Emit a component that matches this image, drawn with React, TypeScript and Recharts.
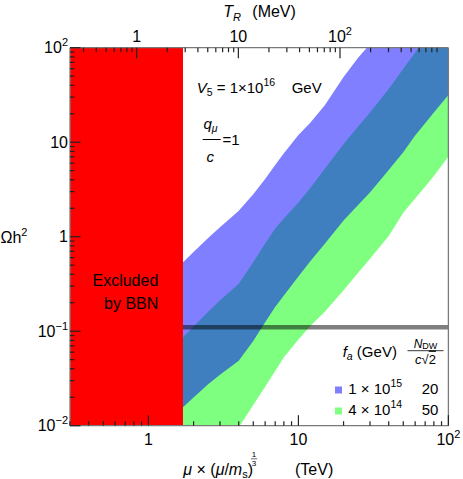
import React from 'react';
import { ComposedChart, Area, Line, XAxis, YAxis, ReferenceArea, ReferenceLine } from 'recharts';

// mu x (mu/m_s)^(1/3) in TeV
const muValues = [1.7, 2, 2.5, 3, 3.5, 4, 5, 6, 7, 8, 10, 12, 15, 20, 25, 30, 40, 50, 60, 70, 80, 100];
// f_a = 1e15 GeV band (Omega h^2)
const blueLow = [0.0157, 0.0199, 0.0274, 0.0347, 0.0416, 0.0488, 0.0787, 0.124, 0.18, 0.239, 0.38, 0.551, 0.84, 1.48, 2.16, 2.93, 5.07, 7.85, 11.8, 15.9, 20.6, 31.6];
const blueHigh = [0.537, 0.69, 0.97, 1.26, 1.56, 1.88, 2.82, 4.08, 5.75, 7.63, 11.9, 16.1, 24.6, 49, 78.5, 109, 188, 287, 407, 545, 703, 1075];
// f_a = 4e14 GeV band
const greenLow = [0.0012, 0.00177, 0.00305, 0.00474, 0.00692, 0.0096, 0.0166, 0.0259, 0.038, 0.0531, 0.0815, 0.1135, 0.161, 0.272, 0.416, 0.586, 1.02, 1.79, 2.54, 3.4, 4.4, 7.04];
const greenHigh = [0.0865, 0.112, 0.161, 0.212, 0.263, 0.318, 0.538, 0.848, 1.22, 1.56, 2.3, 3.27, 5.23, 9.57, 14.7, 20.6, 36.6, 59.8, 88.9, 124, 165, 268];

const relicDensity = 0.11;
const bbnLimit = 1.7;
const muDomain = [0.3, 100];
const omegaDomain = [0.01, 100];
const trDomain = [0.2207, 1165];

const muTicks = [0.3, 0.4, 0.5, 0.6, 0.7, 0.8, 0.9, 1, 2, 3, 4, 5, 6, 7, 8, 9, 10, 20, 30, 40, 50, 60, 70, 80, 90, 100];
const omegaTicks = [0.01, 0.02, 0.03, 0.04, 0.05, 0.06, 0.07, 0.08, 0.09, 0.1, 0.2, 0.3, 0.4, 0.5, 0.6, 0.7, 0.8, 0.9, 1, 2, 3, 4, 5, 6, 7, 8, 9, 10, 20, 30, 40, 50, 60, 70, 80, 90, 100];
const trTicks = [0.3, 0.4, 0.5, 0.6, 0.7, 0.8, 0.9, 1, 2, 3, 4, 5, 6, 7, 8, 9, 10, 20, 30, 40, 50, 60, 70, 80, 90, 100, 200, 300, 400, 500, 600, 700, 800, 900];

const data = muValues.map((mu, i) => ({
  mu,
  blue: [blueLow[i], blueHigh[i]],
  green: [greenLow[i], greenHigh[i]],
}));

const FONT = '"Liberation Sans", Arial, sans-serif';
const FRAME = '#7a7a7a';
const TICK = '#222';
const MAJOR = 10.5;
const MINOR = 4.5;

const isMajor = (v: number) => Math.abs(Math.log10(v) - Math.round(Math.log10(v))) < 1e-6;

function PowerLabel({ x, y, v, anchor }: { x: number; y: number; v: number; anchor: string }) {
  const e = Math.round(Math.log10(v));
  if (e === 0 || e === 1) {
    return (
      <text x={x} y={y} textAnchor={anchor} fontSize={16} fontFamily={FONT} fill="#000">
        {e === 0 ? '1' : '10'}
      </text>
    );
  }
  return (
    <text x={x} y={y} textAnchor={anchor} fontSize={16} fontFamily={FONT} fill="#000">
      10
      <tspan dy={-7} fontSize={11}>{e < 0 ? '\u2212' + -e : String(e)}</tspan>
    </text>
  );
}

const BottomTick = (props: any) => {
  const { x, y, payload } = props;
  const v = payload.value;
  const major = isMajor(v);
  return (
    <g>
      <line x1={x} x2={x} y1={y} y2={y - (major ? MAJOR : MINOR)} stroke={TICK} strokeWidth={1.2} />
      {major && v >= 1 && <PowerLabel x={x} y={y + 19.5} v={v} anchor="middle" />}
    </g>
  );
};

const TopTick = (props: any) => {
  const { x, y, payload } = props;
  const v = payload.value;
  const major = isMajor(v);
  return (
    <g>
      <line x1={x} x2={x} y1={y} y2={y + (major ? MAJOR : MINOR)} stroke={TICK} strokeWidth={1.2} />
      {major && v >= 1 && <PowerLabel x={x} y={y - 6.2} v={v} anchor="middle" />}
    </g>
  );
};

const LeftTick = (props: any) => {
  const { x, y, payload } = props;
  const v = payload.value;
  const major = isMajor(v);
  return (
    <g>
      <line x1={x} x2={x + (major ? MAJOR : MINOR)} y1={y} y2={y} stroke={TICK} strokeWidth={1.2} />
      {major && <PowerLabel x={x - 2} y={y + 5.5} v={v} anchor="end" />}
    </g>
  );
};

export default function App() {
  return (
    <div style={{ position: 'absolute', left: 0, top: 0, width: 463, height: 479, background: '#fff' }}>
      <ComposedChart width={463} height={479} data={data} margin={{ top: 0, right: 0, bottom: 0, left: 0 }}>
        <Area dataKey="green" type="linear" fill="#00ff00" fillOpacity={0.5} stroke="none" isAnimationActive={false} />
        <Area dataKey="blue" type="linear" fill="#0000ff" fillOpacity={0.5} stroke="none" isAnimationActive={false} />
        <Line
          xAxisId="top"
          dataKey="mu"
          stroke="none"
          dot={false}
          activeDot={false}
          legendType="none"
          isAnimationActive={false}
        />
        <ReferenceLine
          segment={[{ x: bbnLimit, y: relicDensity }, { x: muDomain[1], y: relicDensity }]}
          stroke="#000"
          strokeOpacity={0.5}
          strokeWidth={4.5}
        />
        <ReferenceArea
          x1={muDomain[0]}
          x2={bbnLimit}
          y1={omegaDomain[0]}
          y2={omegaDomain[1]}
          fill="#ff0000"
          fillOpacity={1}
          stroke="none"
        />
        <XAxis
          dataKey="mu"
          type="number"
          scale="log"
          domain={muDomain}
          allowDataOverflow
          ticks={muTicks}
          interval={0}
          height={53.3}
          tickSize={0}
          tickMargin={0}
          tickLine={false}
          axisLine={{ stroke: FRAME, strokeWidth: 1.3 }}
          tick={BottomTick}
        />
        <XAxis
          xAxisId="top"
          dataKey="mu"
          orientation="top"
          type="number"
          scale="log"
          domain={trDomain}
          allowDataOverflow
          ticks={trTicks}
          interval={0}
          height={47.7}
          tickSize={0}
          tickMargin={0}
          tickLine={false}
          axisLine={{ stroke: FRAME, strokeWidth: 1.3 }}
          tick={TopTick}
        />
        <YAxis
          type="number"
          scale="log"
          domain={omegaDomain}
          allowDataOverflow
          ticks={omegaTicks}
          interval={0}
          width={70}
          tickSize={0}
          tickMargin={0}
          tickLine={false}
          axisLine={{ stroke: FRAME, strokeWidth: 1.3 }}
          tick={LeftTick}
        />
        <YAxis
          yAxisId="right"
          orientation="right"
          type="number"
          scale="log"
          domain={omegaDomain}
          allowDataOverflow
          width={14.6}
          tick={false}
          tickLine={false}
          axisLine={{ stroke: FRAME, strokeWidth: 1.3 }}
        />
      </ComposedChart>
      <svg
        width={463}
        height={479}
        style={{ position: 'absolute', left: 0, top: 0, pointerEvents: 'none' }}
        fontFamily={FONT}
      >
        <text x={223.3} y={16.5} fontSize={16} fill="#000">
          <tspan fontStyle="italic">T</tspan>
          <tspan fontStyle="italic" fontSize={11} dy={4}>R</tspan>
        </text>
        <text x={252.3} y={16.5} fontSize={16} fill="#000">(MeV)</text>
        <text x={0.5} y={243} fontSize={16} fill="#000">
          Ωh<tspan dy={-7} fontSize={11}>2</tspan>
        </text>
        <text x={183.3} y={475} fontSize={16} fill="#000">
          <tspan fontStyle="italic">μ</tspan>
          <tspan> × (</tspan>
          <tspan fontStyle="italic">μ</tspan>
          <tspan>/</tspan>
          <tspan fontStyle="italic">m</tspan>
          <tspan fontSize={11} dy={3}>s</tspan>
          <tspan dy={-3}>)</tspan>
        </text>
        <text x={254} y={457} fontSize={8} textAnchor="middle" fill="#000">1</text>
        <line x1={251} x2={257} y1={458.8} y2={458.8} stroke="#000" strokeWidth={0.6} />
        <text x={254} y={465.5} fontSize={8} textAnchor="middle" fill="#000">3</text>
        <text x={295} y={475} fontSize={16} fill="#000">(TeV)</text>
        <text x={196.7} y={93.3} fontSize={15} fill="#000">
          <tspan fontStyle="italic">V</tspan>
          <tspan fontSize={10.5} dy={3}>5</tspan>
          <tspan dy={-3}> = 1×10</tspan>
          <tspan fontSize={10.5} dy={-7}>16</tspan>
        </text>
        <text x={291.7} y={93.3} fontSize={15} fill="#000">GeV</text>
        <text x={203.5} y={128.5} fontSize={15} fill="#000">
          <tspan fontStyle="italic">q</tspan>
          <tspan fontStyle="italic" fontSize={10.5} dy={3}>μ</tspan>
        </text>
        <line x1={202.7} x2={220.7} y1={139.5} y2={139.5} stroke="#000" strokeWidth={1} />
        <text x={206.5} y={161.7} fontSize={15} fontStyle="italic" fill="#000">c</text>
        <text x={222.5} y={145} fontSize={15} fill="#000">=1</text>
        <text x={158.3} y={285.7} fontSize={16} textAnchor="end" fill="#000">Excluded</text>
        <text x={158.3} y={309.3} fontSize={16} textAnchor="end" fill="#000">by BBN</text>
        <text x={342.7} y={356.7} fontSize={15} fill="#000">
          <tspan fontStyle="italic">f</tspan>
          <tspan fontStyle="italic" fontSize={10.5} dy={3}>a</tspan>
          <tspan dy={-3}> (GeV)</tspan>
        </text>
        <text x={425.5} y={347.8} fontSize={12} textAnchor="middle" fill="#000">
          <tspan fontStyle="italic">N</tspan>
          <tspan fontSize={9} dy={1.5}>DW</tspan>
        </text>
        <line x1={407.5} x2={443.5} y1={350.7} y2={350.7} stroke="#000" strokeWidth={0.8} />
        <text x={425.5} y={363.5} fontSize={13} textAnchor="middle" fill="#000">
          <tspan fontStyle="italic">c</tspan>
          <tspan>√</tspan>
          <tspan style={{ textDecoration: 'overline' }}>2</tspan>
        </text>
        <rect x={335} y={386.5} width={7} height={7} fill="#8080ff" />
        <text x={348.3} y={393.5} fontSize={15} fill="#000">
          1 × 10<tspan fontSize={10.5} dy={-7}>15</tspan>
        </text>
        <text x={421.7} y={393.5} fontSize={15} fill="#000">20</text>
        <rect x={335} y={407.5} width={7} height={7} fill="#80ff80" />
        <text x={348.3} y={414.5} fontSize={15} fill="#000">
          4 × 10<tspan fontSize={10.5} dy={-7}>14</tspan>
        </text>
        <text x={421.7} y={414.5} fontSize={15} fill="#000">50</text>
      </svg>
    </div>
  );
}
